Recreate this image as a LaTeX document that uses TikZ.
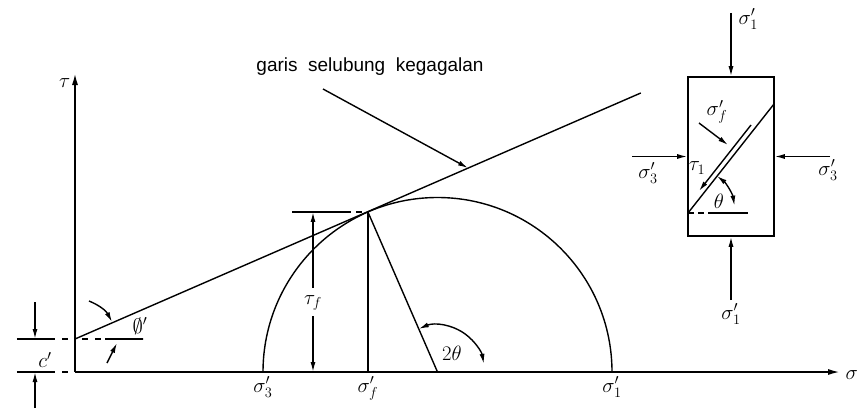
\documentclass[tikz,border=0pt]{standalone}
\usepackage{fontspec}
\setmainfont{Liberation Sans}
\usetikzlibrary{calc,positioning,arrows.meta}
\tikzstyle{line} = [draw, -{Latex[length=10pt,width=5pt]}]
\tikzstyle{dim} = [draw, {Latex[length=10pt,width=5pt]}-{Latex[length=10pt,width=5pt]}]

\begin{document}
\begin{tikzpicture}[
	x=1pt, y=1pt,
	line width=1.4pt,
	every node/.style={font=\fontsize{22}{26}\selectfont, inner sep=1pt},
	axis/.style={
		draw,
		line width=1.8pt,
		-{Latex[length=12pt,width=6pt]},
	},
	specimen/.style={
		rectangle,
		draw=black,
		line width=1.6pt,
		minimum width=86pt,
		minimum height=159pt,
		inner sep=0pt,
	},
]
	\useasboundingbox (-75,-36) rectangle (784,372);

	% Mohr diagram
	\coordinate (O) at (0,0);
	\coordinate (tautop) at (0,299);
	\coordinate (sigend) at (765,0);
	\coordinate (C) at (0,33);
	\coordinate (envend) at ($(C)+(23.5:617)$);
	\coordinate (M) at (362.5,0);
	\coordinate (s3) at (188,0);
	\coordinate (s1) at (537,0);
	\coordinate (T) at ($(M)+(113.5:174.5)$);
	\coordinate (Tf) at (T |- O);

	\draw [axis] (O) -- (tautop);
	\draw [axis] (O) -- (sigend);
	\node (taulab) [left=3pt of tautop, yshift=-10pt] {$\tau$};
	\node (siglab) [right=4pt of sigend, yshift=-3pt] {$\sigma$};

	\draw (C) -- (envend);
	\draw (s1) arc[start angle=0, end angle=180, radius=174.5];
	\draw (T) -- (Tf);
	\draw (T) -- (M);

	\node (s3lab) [below=3pt of s3] {$\sigma'_3$};
	\node (sflab) [below=3pt of Tf] {$\sigma'_f$};
	\node (s1lab) [below=3pt of s1] {$\sigma'_1$};

	% tau_f
	\coordinate (tfl) at (217,0 |- T);
	\coordinate (tfd) at (270,0 |- T);
	\draw (tfl) -- (tfd);
	\draw [dashed, dash pattern=on 6pt off 5pt] (tfd) -- (T);
	\node (tflab) at (238,69) {$\tau_f$};
	\draw [line] (tflab.north) ++(0,6) -- (238,0 |- T);
	\draw [line] (tflab.south) ++(0,-4) -- (238,0);

	% 2 theta
	\draw [dim] ($(M)+(113.5:47)$) arc[start angle=113.5, end angle=10, radius=47];
	\node (twotheta) at (377,19) {$2\theta$};

	% c'
	\coordinate (cl) at (-58,0 |- C);
	\coordinate (ol) at (-58,0);
	\draw [dash pattern=on 38pt off 7pt on 6pt off 20pt] (cl) -- (C);
	\draw [dash pattern=on 38pt off 7pt on 6pt off 20pt] (ol) -- (O);
	\draw [dash pattern=on 0pt off 7pt on 6pt off 7pt on 6pt off 4pt on 38pt] (C) -- ++(68,0);
	\draw [line] (-40,70) -- (-40,0 |- C);
	\draw [line] (-40,-36) -- (-40,0);
	\node (clab) at (-30,12) {$c'$};

	% phi'
	\node (philab) at (65,46) {$\emptyset'$};
	\draw [line] (14,71) to[bend left=20] (37,50);
	\draw [line] (32,9) -- (42,29);

	% envelope label
	\node (envlab) [font=\fontsize{19}{23}\selectfont] at (295,305) {garis\ \ selubung\ \ kegagalan};
	\draw [line] (248,283) -- (393,204);

	% specimen
	\node (box) [specimen] at (656,215.5) {};
	\coordinate (s1top) at (656,359);
	\coordinate (s1bot) at (656,72);
	\coordinate (s3left) at (557,0 |- box.west);
	\coordinate (s3right) at (755,0 |- box.east);
	\draw [line] (s1top) -- (box.north);
	\draw [line] (s1bot) -- (box.south);
	\draw [line] (s3left) -- (box.west);
	\draw [line] (s3right) -- (box.east);
	\node (s1toplab) [right=6pt of s1top, yshift=-6pt] {$\sigma'_1$};
	\node (s1botlab) [below=2pt of s1bot] {$\sigma'_1$};
	\node (s3leftlab) at (573,199) {$\sigma'_3$};
	\node (s3rightlab) at (753,202) {$\sigma'_3$};

	% failure plane
	\coordinate (P1) at (613,159);
	\coordinate (P2) at (699,268);
	\draw (P1) -- (P2);
	\coordinate (sh1) at (676,247);
	\coordinate (sh2) at (624,181);
	\draw [line] (sh1) -- (sh2);
	\node (taulab1) at (622,204) {$\tau_1$};
	\coordinate (sfs) at (624,249);
	\coordinate (sfe) at (653,227);
	\draw [line] (sfs) -- (sfe);
	\node (sflab1) at (642,260) {$\sigma'_f$};
	\coordinate (hd) at (634,159);
	\coordinate (he) at (673,159);
	\draw [dashed, dash pattern=on 6pt off 4pt] (P1) -- (hd);
	\draw (hd) -- (he);
	\draw [dim] ($(P1)+(52:47)$) arc[start angle=52, end angle=9, radius=47];
	\node (thetalab) at (644,171) {$\theta$};

\end{tikzpicture}
\end{document}
